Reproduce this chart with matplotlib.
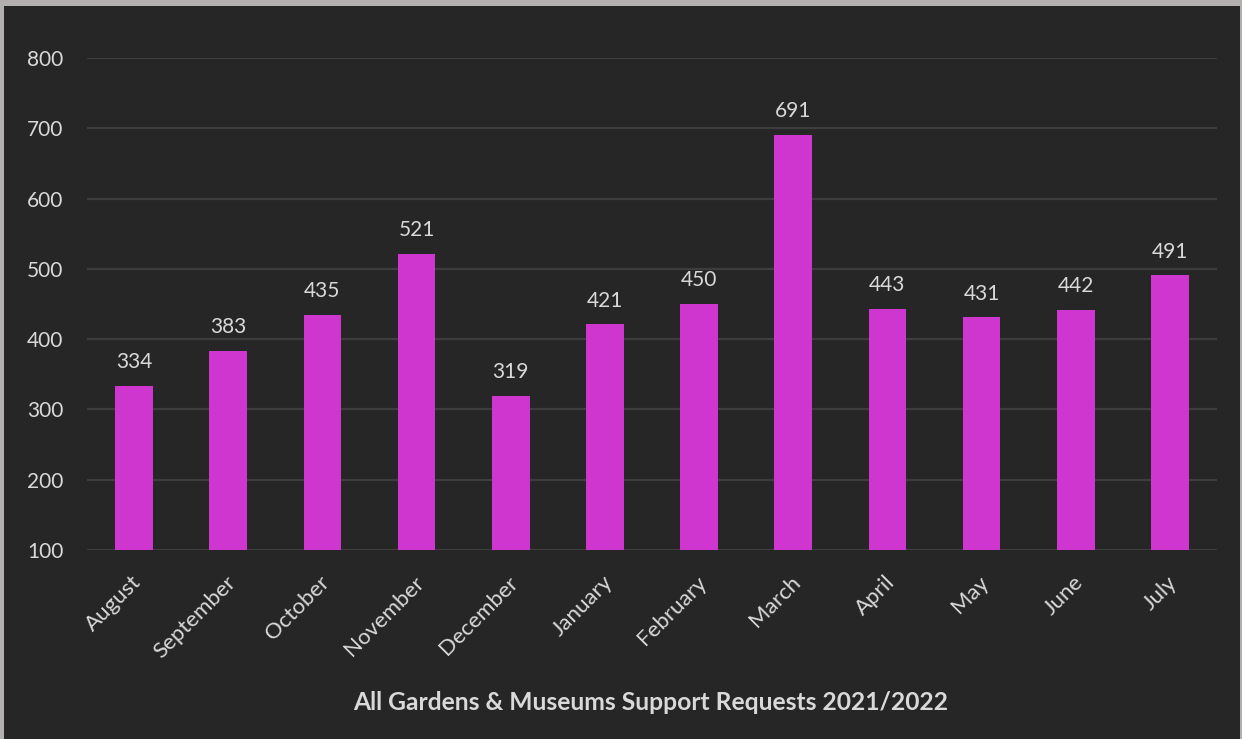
import numpy as np
import matplotlib.pyplot as plt
from matplotlib.patches import Rectangle
from matplotlib.transforms import ScaledTranslation

months = ['August', 'September', 'October', 'November', 'December', 'January',
          'February', 'March', 'April', 'May', 'June', 'July']
requests = [334, 383, 435, 521, 319, 421, 450, 691, 443, 431, 442, 491]
y_ticks = [100, 200, 300, 400, 500, 600, 700, 800]

bg = '#262626'
txt = '#d9d9d9'
bar_col = '#cf35cf'

plt.rcParams['font.family'] = ['Lato', 'DejaVu Sans']

fig = plt.figure(figsize=(12.42, 7.39), dpi=100, facecolor='#b3afaf')
# dark panel inside the thin grey frame
fig.patches.append(Rectangle((4 / 1242, 0), 1236 / 1242, 733 / 739,
                             transform=fig.transFigure, facecolor=bg,
                             edgecolor='none', zorder=-5))

ax = fig.add_axes([87 / 1242, 1 - 550 / 739, 1130 / 1242, 492 / 739])
ax.set_zorder(1)
ax.patch.set_alpha(0)

x = np.arange(len(months))
bars = ax.bar(x, requests, width=0.4, color=bar_col, zorder=3)

for xi, v in zip(x, requests):
    ax.annotate(str(v), (xi, v), xytext=(0, 17), textcoords='offset points',
                ha='center', va='center', color=txt, fontsize=15)

ax.set_xlim(-0.5, len(months) - 0.5)
ax.set_ylim(100, 800)
ax.set_yticks(y_ticks)
ax.yaxis.grid(True, color='#3d3d3d', linewidth=1.6, zorder=0)
ax.set_axisbelow(True)
for s in ax.spines.values():
    s.set_visible(False)
ax.tick_params(axis='y', length=0, pad=17, labelcolor=txt, labelsize=15)
ax.tick_params(axis='x', length=0, pad=16, labelcolor=txt, labelsize=16)

ax.set_xticks(x)
ax.set_xticklabels(months, rotation=45, ha='right', rotation_mode='anchor')
shift = ScaledTranslation(-2 / 72, 0, fig.dpi_scale_trans)
for lbl in ax.get_xticklabels():
    lbl.set_transform(lbl.get_transform() + shift)

fig.text(651 / 1242, 1 - 703 / 739, 'All Gardens & Museums Support Requests 2021/2022',
         ha='center', va='center', color=txt, fontsize=17.7, fontweight='bold')

fig.savefig('out.png', dpi=100, facecolor=fig.get_facecolor())
